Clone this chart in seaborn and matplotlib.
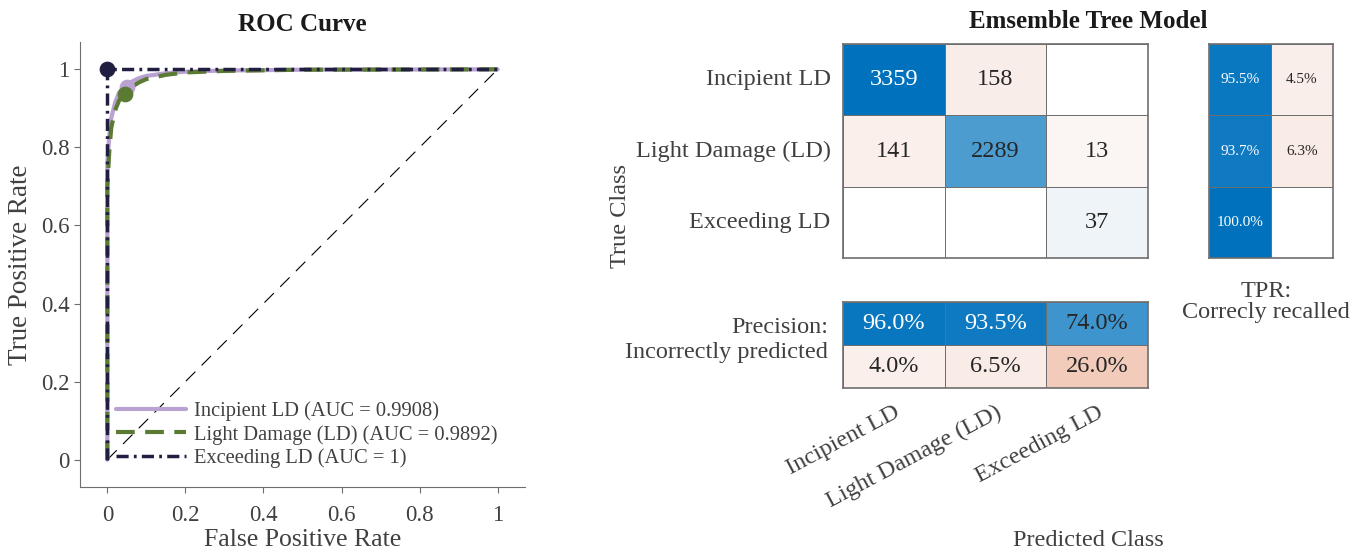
import matplotlib.pyplot as plt
import numpy as np
import seaborn as sns
from matplotlib.colors import LinearSegmentedColormap, ListedColormap
from matplotlib.ticker import FuncFormatter

# ---- data ----
classes = ["Incipient LD", "Light Damage (LD)", "Exceeding LD"]
conf_counts = [[3359, 158, 0], [141, 2289, 13], [0, 0, 37]]
tpr_pct = [[95.5, 4.5], [93.7, 6.3], [100.0, 0.0]]
precision_pct = [[96.0, 93.5, 74.0], [4.0, 6.5, 26.0]]

fpr_incipient = [0, 0, 0.005, 0.01, 0.02, 0.03, 0.045, 0.06, 0.08, 0.1, 0.15, 0.2, 0.3, 0.5, 1.0]
tpr_incipient = [0, 0.76, 0.83, 0.875, 0.915, 0.94, 0.957, 0.967, 0.977, 0.983, 0.99, 0.994, 0.997, 0.999, 1.0]
fpr_light = [0, 0, 0.005, 0.01, 0.02, 0.03, 0.045, 0.06, 0.08, 0.1, 0.15, 0.2, 0.3, 0.5, 1.0]
tpr_light = [0, 0.70, 0.79, 0.85, 0.895, 0.92, 0.938, 0.953, 0.966, 0.975, 0.986, 0.992, 0.996, 0.999, 1.0]
fpr_exceeding = [0, 0, 1.0]
tpr_exceeding = [0, 1.0, 1.0]
chance_line = [0, 1]

auc_values = [0.9908, 0.9892, 1]
op_fpr = [0.05, 0.045, 0.0]
op_tpr = [0.955, 0.938, 1.0]

PURPLE = "#b9a1d2"
GREEN = "#5b7b33"
NAVY = "#211f41"
TXT = "#404040"
GRID = "#6e6e6e"
FS = 17.5

W, H = 1367, 552

sns.set_theme(style="white")
plt.rcParams["font.family"] = ["Liberation Serif", "DejaVu Serif"]
plt.rcParams["text.color"] = TXT

fig = plt.figure(figsize=(W / 100, H / 100), dpi=100)

# ---- ROC curve ----
ax = fig.add_axes([80 / W, 1 - 487 / H, 445 / W, 445 / H])
sns.lineplot(x=chance_line, y=chance_line, ax=ax, color="black", lw=0.8,
             linestyle=(0, (12, 8)), estimator=None, sort=False, zorder=1)
sns.lineplot(x=fpr_incipient, y=tpr_incipient, ax=ax, color=PURPLE, lw=3,
             estimator=None, sort=False, label=f"Incipient LD (AUC = {auc_values[0]})")
sns.scatterplot(x=[op_fpr[0]], y=[op_tpr[0]], ax=ax, color=PURPLE, s=110,
                edgecolor=PURPLE, zorder=3)
sns.lineplot(x=fpr_light, y=tpr_light, ax=ax, color=GREEN, lw=3, linestyle=(0, (4.5, 2.5)),
             estimator=None, sort=False, label=f"Light Damage (LD) (AUC = {auc_values[1]})")
sns.scatterplot(x=[op_fpr[1]], y=[op_tpr[1]], ax=ax, color=GREEN, s=110,
                edgecolor=GREEN, zorder=4)
sns.lineplot(x=fpr_exceeding, y=tpr_exceeding, ax=ax, color=NAVY, lw=2.5,
             linestyle=(0, (3.5, 1.5, 0.8, 1.5)), estimator=None, sort=False,
             label=f"Exceeding LD (AUC = {auc_values[2]})")
sns.scatterplot(x=[op_fpr[2]], y=[op_tpr[2]], ax=ax, color=NAVY, s=110,
                edgecolor=NAVY, zorder=5)

ax.set_xlim(-0.07, 1.07)
ax.set_ylim(-0.07, 1.07)
ticks = [0, 0.2, 0.4, 0.6, 0.8, 1]
ax.set_xticks(ticks)
ax.set_yticks(ticks)
fmt = FuncFormatter(lambda v, _: f"{v:g}")
ax.xaxis.set_major_formatter(fmt)
ax.yaxis.set_major_formatter(fmt)
ax.tick_params(direction="out", length=4, width=0.8, color=GRID,
               labelsize=16.5, labelcolor=TXT, bottom=True, left=True)
ax.tick_params(axis="x", pad=9)
for side in ["top", "right"]:
    ax.spines[side].set_visible(False)
for side in ["left", "bottom"]:
    ax.spines[side].set_color(GRID)
    ax.spines[side].set_linewidth(0.8)
ax.set_xlabel("False Positive Rate", fontsize=18.5, color=TXT, labelpad=2)
ax.set_ylabel("True Positive Rate", fontsize=19.5, color=TXT, labelpad=6)
ax.set_title("ROC Curve", fontsize=18, fontweight="bold", color="#1a1a1a", pad=8)
ax.legend(loc="lower left", bbox_to_anchor=(0.04, 0.0), frameon=False, fontsize=14.8,
          handlelength=3.4, labelspacing=0.2, handletextpad=0.4)

# ---- confusion matrix blocks ----
blue_cmap = LinearSegmentedColormap.from_list("diag", ["#f1f5f9", "#0072bd"])
red_cmap = LinearSegmentedColormap.from_list("offdiag", ["#fbf5f3", "#d95319"])


def draw_block(ax, values, vmax, label_fmt, correct, fontsize):
    values = np.asarray(values, dtype=float)
    empty = values == 0
    sns.heatmap(np.zeros_like(values), cmap=ListedColormap(["white"]), cbar=False,
                linewidths=0.6, linecolor=GRID, ax=ax)
    sns.heatmap(values, mask=~correct | empty, cmap=blue_cmap, vmin=0, vmax=vmax,
                cbar=False, linewidths=0.6, linecolor=GRID, ax=ax)
    sns.heatmap(values, mask=correct | empty, cmap=red_cmap, vmin=0, vmax=vmax,
                cbar=False, linewidths=0.6, linecolor=GRID, ax=ax)
    for i, j in np.ndindex(values.shape):
        if empty[i, j]:
            continue
        color = "white" if correct[i, j] and values[i, j] / vmax > 0.8 else "#262626"
        ax.text(j + 0.5, i + 0.5, label_fmt.format(values[i, j]), ha="center",
                va="center", color=color, fontsize=fontsize)
    for sp in ax.spines.values():
        sp.set_visible(True)
        sp.set_color(GRID)
        sp.set_linewidth(1.2)
    ax.set_xticks([])
    ax.set_yticks([])


counts = np.array(conf_counts, dtype=float)
ax_cm = fig.add_axes([843 / W, 1 - 258 / H, 305 / W, 214 / H])
draw_block(ax_cm, counts, counts.max(), "{:.0f}", np.eye(3, dtype=bool), FS)
ax_cm.set_yticks(np.arange(3) + 0.5)
ax_cm.set_yticklabels(classes, rotation=0, fontsize=FS, color=TXT)
ax_cm.tick_params(axis="y", length=0, pad=9)

ax_tpr = fig.add_axes([1209 / W, 1 - 258 / H, 124 / W, 214 / H])
tpr_correct = np.array([[True, False]] * 3)
draw_block(ax_tpr, tpr_pct, 100, "{:.1f}%", tpr_correct, 11)

ax_prec = fig.add_axes([843 / W, 1 - 388 / H, 305 / W, 86 / H])
prec_correct = np.array([[True] * 3, [False] * 3])
draw_block(ax_prec, precision_pct, 100, "{:.1f}%", prec_correct, FS)
ax_prec.set_xticks(np.arange(3) + 0.5)
ax_prec.set_xticklabels(classes, rotation=28, ha="right", rotation_mode="anchor",
                        fontsize=FS, color=TXT)
ax_prec.tick_params(axis="x", length=0, pad=10)

fig.text(1088 / W, 1 - 22 / H, "Emsemble Tree Model", ha="center", va="center",
         fontsize=18, fontweight="bold", color="#1a1a1a")
fig.text(1088 / W, 1 - 540 / H, "Predicted Class", ha="center", va="center",
         fontsize=FS, color=TXT)
fig.text(620 / W, 1 - 216 / H, "True Class", ha="center", va="center",
         rotation=90, fontsize=FS, color=TXT)
fig.text(1266 / W, 1 - 302 / H, "TPR:\nCorrecly recalled", ha="center", va="center",
         fontsize=FS, color=TXT, linespacing=1.05)
fig.text(828 / W, 1 - 340 / H, "Precision:\nIncorrectly predicted", ha="right",
         va="center", multialignment="right", fontsize=FS, color=TXT, linespacing=1.3)

fig.savefig("out.png", dpi=100, facecolor="white")
